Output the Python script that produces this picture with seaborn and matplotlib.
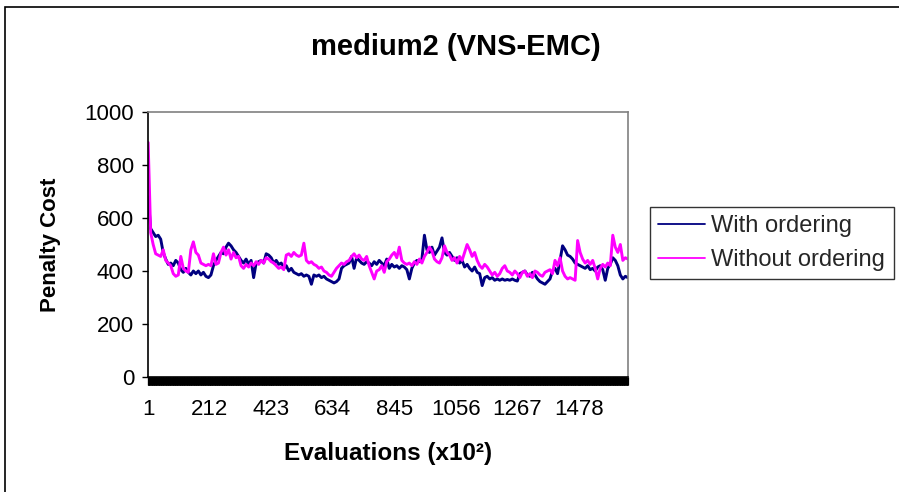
import numpy as np
import pandas as pd
import matplotlib
matplotlib.use("Agg")
import matplotlib.pyplot as plt
import seaborn as sns
from matplotlib.patches import Rectangle

# ---------------- data ----------------
n_categories = 1645
tick_values = [1, 212, 423, 634, 845, 1056, 1267, 1478]
y_ticks = [0, 200, 400, 600, 800, 1000]
series_names = ["With ordering", "Without ordering"]
series_colors = ["#000080", "#FF00FF"]

with_ordering = [
    680, 560, 545, 530, 535, 520, 470, 445, 425, 430, 420, 440, 430, 405, 395, 410,
    395, 385, 400, 390, 400, 385, 395, 380, 375, 385, 420, 440, 455, 470, 465, 490,
    505, 495, 480, 470, 455, 440, 430, 445, 425, 440, 375, 430, 435, 440, 430, 465,
    460, 450, 430, 440, 425, 430, 410, 420, 400, 410, 395, 390, 385, 390, 380, 385,
    380, 350, 385, 380, 385, 375, 380, 370, 365, 360, 355, 360, 370, 410, 420, 425,
    430, 455, 410, 450, 440, 430, 425, 435, 430, 420, 435, 425, 440, 430, 420, 445,
    410, 425, 415, 420, 410, 420, 415, 405, 370, 410, 430, 440, 435, 445, 535, 480,
    470, 490, 460, 475, 490, 525, 470, 460, 470, 455, 440, 450, 430, 440, 415, 425,
    410, 400, 415, 395, 390, 345, 375, 380, 370, 375, 365, 370, 365, 370, 365, 368,
    365, 370, 365, 362, 390, 395, 400, 385, 380, 395, 385, 370, 360, 355, 350, 360,
    370, 400, 410, 390, 440, 495, 480, 460, 455, 445, 430, 425, 420, 415, 410, 420,
    405, 410, 400, 415, 420, 405, 365, 410, 425, 450, 440, 420, 385, 370, 380, 375,
]
without_ordering = [
    885, 545, 500, 465, 460, 455, 480, 440, 430, 420, 390, 380, 385, 455, 410, 400,
    395, 480, 510, 470, 460, 430, 425, 420, 425, 420, 465, 425, 430, 470, 490, 460,
    480, 445, 470, 450, 455, 420, 410, 425, 415, 430, 420, 435, 425, 440, 430, 450,
    445, 435, 430, 420, 410, 415, 405, 460, 465, 455, 470, 460, 455, 460, 505, 440,
    430, 435, 425, 420, 410, 415, 400, 395, 385, 380, 395, 410, 420, 430, 425, 435,
    440, 455, 465, 450, 460, 445, 440, 455, 420, 395, 370, 400, 405, 420, 395, 435,
    445, 460, 470, 450, 490, 440, 430, 425, 430, 420, 435, 425, 445, 430, 455, 470,
    490, 475, 445, 435, 430, 450, 495, 470, 460, 440, 450, 430, 455, 440, 470, 500,
    480, 455, 470, 440, 420, 410, 425, 415, 400, 385, 395, 380, 390, 410, 420, 400,
    395, 385, 400, 390, 375, 395, 400, 380, 390, 375, 400, 395, 385, 380, 395, 400,
    405, 390, 440, 420, 450, 400, 380, 370, 375, 370, 365, 515, 470, 445, 430, 440,
    425, 440, 410, 370, 410, 425, 415, 430, 420, 535, 490, 470, 500, 440, 450, 445,
]

# ---------------- build long table ----------------
evaluations = np.linspace(1, n_categories, len(with_ordering))
frames = []
for name, vals in zip(series_names, [with_ordering, without_ordering]):
    frames.append(pd.DataFrame({"Evaluation": evaluations,
                                "Penalty": vals,
                                "Series": name}))
data = pd.concat(frames, ignore_index=True)

# ---------------- style ----------------
sns.set_theme(style="white")
plt.rcParams["font.family"] = ["Liberation Sans", "DejaVu Sans"]

W, H = 899, 492
fig = plt.figure(figsize=(W / 100, H / 100), dpi=100)
fig.patch.set_facecolor("white")

ax_left, ax_right, ax_top, ax_bottom = 148, 628, 112, 377
ax = fig.add_axes([ax_left / W, 1 - ax_bottom / H,
                   (ax_right - ax_left) / W, (ax_bottom - ax_top) / H])

sns.lineplot(data=data, x="Evaluation", y="Penalty", hue="Series",
             hue_order=series_names, palette=series_colors,
             linewidth=2.1, ax=ax, legend=True)

ax.set_xlim(0.5, n_categories + 0.5)
ax.set_ylim(0, 1000)

# axes
ax.set_xticks(tick_values)
ax.set_xticklabels([str(t) for t in tick_values])
ax.set_xticks(np.arange(0.5, n_categories + 1, 1.0), minor=True)
ax.set_yticks(y_ticks)
ax.set_yticklabels([str(t) for t in y_ticks])

ax.tick_params(axis="x", which="both", bottom=True, direction="out",
               length=5.5, width=0.8, color="black")
ax.tick_params(axis="x", which="major", labelsize=16, pad=10, labelcolor="black")
ax.tick_params(axis="y", which="major", left=True, direction="out",
               length=4, width=1, color="black", labelsize=16, pad=6,
               labelcolor="black")

for side in ["left", "bottom"]:
    ax.spines[side].set_color("black")
    ax.spines[side].set_linewidth(1.2)
for side in ["top", "right"]:
    ax.spines[side].set_color("#808080")
    ax.spines[side].set_linewidth(1.2)

ax.set_xlabel("Evaluations (x10²)", fontsize=17.5, fontweight="bold",
              color="black", labelpad=16)
ax.set_ylabel("Penalty Cost", fontsize=16, fontweight="bold",
              color="black", labelpad=17)

fig.text(456 / W, 1 - 47 / H, "medium2 (VNS-EMC)", ha="center", va="center",
         fontsize=21, fontweight="bold", color="black")

# legend
sns.move_legend(ax, loc="upper left", bbox_to_anchor=(650 / W, 1 - 207 / H),
                bbox_transform=fig.transFigure, title=None, frameon=True,
                fontsize=17, handlelength=2.0, handletextpad=0.25,
                borderpad=0.35, labelspacing=0.5, borderaxespad=0)
leg = ax.get_legend()
leg.get_frame().set_edgecolor("black")
leg.get_frame().set_linewidth(1.0)
leg.get_frame().set_boxstyle("square", pad=0)
for line in leg.get_lines():
    line.set_linewidth(1.3)

# chart-area border
fig.patches.append(Rectangle((5 / W, -0.05), 1.2, 1 - 7 / H + 0.05,
                             transform=fig.transFigure, fill=False,
                             edgecolor="black", linewidth=1.2))

fig.savefig("out.png", dpi=100, facecolor="white")
